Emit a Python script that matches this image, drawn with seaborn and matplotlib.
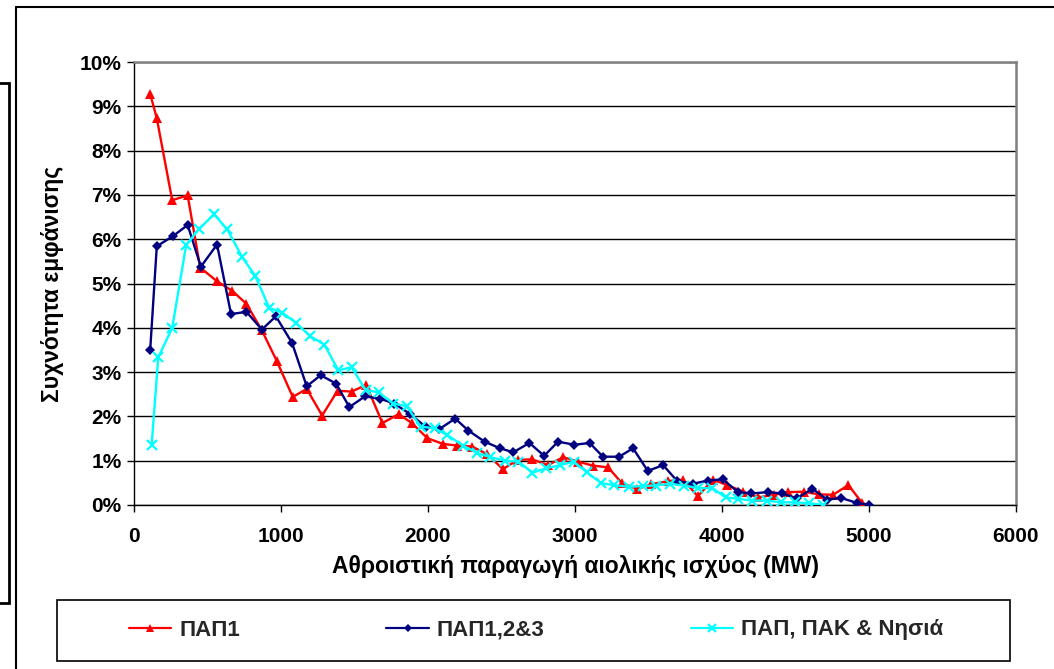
import numpy as np
import pandas as pd
import matplotlib
matplotlib.use("Agg")
import matplotlib.pyplot as plt
from matplotlib.patches import Rectangle
from matplotlib.lines import Line2D
from matplotlib.ticker import FuncFormatter, MultipleLocator
import seaborn as sns

# Αθροιστική παραγωγή (MW) και συχνότητα εμφάνισης (%) ανά σενάριο
pap1_mw = [110, 155, 260, 365, 450, 565, 670, 765, 870, 970,
           1080, 1175, 1280, 1385, 1480, 1580, 1690, 1800, 1890, 1995,
           2100, 2200, 2300, 2400, 2510, 2610, 2710, 2815, 2920, 3020,
           3120, 3225, 3320, 3425, 3520, 3635, 3735, 3835, 3940, 4035,
           4145, 4245, 4355, 4450, 4555, 4660, 4755, 4860, 4955, 5000]
pap1_pct = [9.28, 8.73, 6.88, 6.99, 5.36, 5.05, 4.83, 4.54, 3.94, 3.26,
            2.44, 2.62, 2.02, 2.58, 2.56, 2.71, 1.85, 2.05, 1.85, 1.51,
            1.38, 1.34, 1.32, 1.15, 0.81, 1.02, 1.03, 0.90, 1.08, 0.98,
            0.89, 0.85, 0.49, 0.36, 0.47, 0.54, 0.57, 0.20, 0.57, 0.45,
            0.30, 0.17, 0.23, 0.29, 0.30, 0.24, 0.23, 0.45, 0.04, 0.00]

pap123_mw = [110, 155, 265, 365, 455, 565, 660, 765, 870, 965,
             1075, 1175, 1270, 1375, 1465, 1570, 1675, 1770, 1880, 1985,
             2075, 2185, 2275, 2385, 2490, 2580, 2690, 2790, 2885, 2995,
             3100, 3190, 3300, 3395, 3495, 3600, 3695, 3800, 3905, 4005,
             4110, 4200, 4310, 4410, 4510, 4615, 4715, 4810, 4915, 5000]
pap123_pct = [3.49, 5.84, 6.07, 6.32, 5.38, 5.88, 4.31, 4.36, 3.96, 4.26,
              3.66, 2.68, 2.93, 2.74, 2.21, 2.45, 2.40, 2.29, 2.05, 1.76,
              1.71, 1.95, 1.68, 1.43, 1.28, 1.19, 1.40, 1.11, 1.43, 1.36,
              1.40, 1.09, 1.09, 1.28, 0.77, 0.90, 0.54, 0.48, 0.55, 0.58,
              0.29, 0.26, 0.29, 0.26, 0.15, 0.37, 0.12, 0.16, 0.05, 0.00]

pap_pak_mw = [120, 165, 260, 355, 445, 545, 635, 735, 825, 920,
              1010, 1105, 1195, 1295, 1390, 1480, 1575, 1665, 1765, 1855,
              1950, 2045, 2130, 2240, 2335, 2425, 2525, 2615, 2710, 2805,
              2900, 2990, 3080, 3180, 3265, 3365, 3460, 3550, 3645, 3740,
              3840, 3935, 4025, 4110, 4205, 4305, 4400, 4495, 4590, 4685]
pap_pak_pct = [1.36, 3.33, 4.00, 5.87, 6.24, 6.56, 6.22, 5.60, 5.17, 4.45,
               4.34, 4.10, 3.82, 3.62, 3.04, 3.11, 2.60, 2.54, 2.29, 2.23,
               1.77, 1.73, 1.58, 1.34, 1.17, 1.08, 1.00, 0.98, 0.73, 0.83,
               0.90, 0.98, 0.74, 0.49, 0.45, 0.41, 0.43, 0.44, 0.48, 0.44,
               0.38, 0.38, 0.17, 0.14, 0.10, 0.10, 0.06, 0.06, 0.04, 0.00]

series_names = ["ΠΑΠ1", "ΠΑΠ1,2&3", "ΠΑΠ, ΠΑΚ & Νησιά"]
x_label = "Αθροιστική παραγωγή αιολικής ισχύος (MW)"
y_label = "Συχνότητα εμφάνισης"

sns.set_theme(style="white")
plt.rcParams["font.family"] = ["Liberation Sans", "DejaVu Sans"]
plt.rcParams["font.weight"] = "bold"

W, H = 1054, 669
fig = plt.figure(figsize=(W / 100, H / 100), dpi=100)
fig.patch.set_facecolor("white")

ax = fig.add_axes([134 / W, 1 - 505 / H, (1016 - 134) / W, (505 - 62) / H])
ax.set_facecolor("white")

styles = [
    dict(color="#FF0000", marker="^", markersize=7.5, mew=0),
    dict(color="#000080", marker="D", markersize=5, mew=0),
    dict(color="#00FFFF", marker="x", markersize=6.5, mew=1.6),
]
data = [(pap1_mw, pap1_pct), (pap123_mw, pap123_pct), (pap_pak_mw, pap_pak_pct)]

handles = []
for (xs, ys), name, st in zip(data, series_names, styles):
    df = pd.DataFrame({"mw": xs, "pct": ys})
    sns.lineplot(data=df, x="mw", y="pct", ax=ax, color=st["color"],
                 linewidth=1.7, marker=st["marker"], markersize=st["markersize"],
                 markeredgewidth=st["mew"], markeredgecolor=st["color"],
                 markerfacecolor=st["color"], estimator=None, sort=False,
                 legend=False, zorder=3)
    handles.append(Line2D([0], [0], color=st["color"], linewidth=1.6,
                          marker=st["marker"], markersize=st["markersize"] * 0.8,
                          markeredgewidth=st["mew"], markeredgecolor=st["color"],
                          markerfacecolor=st["color"]))

ax.set_xlim(0, 6000)
ax.set_ylim(0, 10)
ax.xaxis.set_major_locator(MultipleLocator(1000))
ax.yaxis.set_major_locator(MultipleLocator(1))
ax.yaxis.set_major_formatter(FuncFormatter(lambda v, p: f"{v:.0f}%"))

ax.grid(axis="y", color="black", linewidth=1.0)
ax.grid(axis="x", visible=False)
ax.set_axisbelow(True)

for side in ("left", "bottom"):
    ax.spines[side].set_color("black")
    ax.spines[side].set_linewidth(1.0)
for side in ("top", "right"):
    ax.spines[side].set_color("#808080")
    ax.spines[side].set_linewidth(1.8)

ax.tick_params(axis="both", which="major", direction="out", length=5,
               width=1, color="black", labelsize=15, labelcolor="black")
ax.tick_params(axis="y", pad=4)
ax.tick_params(axis="x", pad=11)
ax.tick_params(left=True, bottom=True)
for lbl in ax.get_xticklabels() + ax.get_yticklabels():
    lbl.set_fontweight("bold")

ax.set_xlabel(x_label, fontsize=16.5, fontweight="bold", color="black", labelpad=6)
ax.set_ylabel(y_label, fontsize=16.5, fontweight="bold", color="black", labelpad=11)

# Πλαίσιο γραφήματος και υπόμνημα
fig.add_artist(Line2D([16 / W, 16 / W], [0, 1 - 7 / H], color="black", linewidth=1.5))
fig.add_artist(Line2D([16 / W, 1], [1 - 7 / H, 1 - 7 / H], color="black", linewidth=1.5))
fig.add_artist(Rectangle((-10 / W, 1 - 603 / H), 19 / W, (603 - 83) / H,
                         fill=False, edgecolor="black", linewidth=2))
fig.add_artist(Rectangle((57 / W, 1 - 661 / H), (1010 - 57) / W, (661 - 600) / H,
                         fill=False, edgecolor="black", linewidth=1.2))

fig.legend(handles, series_names, loc="center", bbox_to_anchor=(536 / W, 1 - 630 / H),
           ncol=3, frameon=False, handlelength=1.9, handletextpad=0.35,
           columnspacing=6.6, prop=dict(family=["Liberation Sans Narrow", "Liberation Sans"],
                                        weight="bold", size=16))

fig.savefig("out.png", dpi=100, facecolor="white")
